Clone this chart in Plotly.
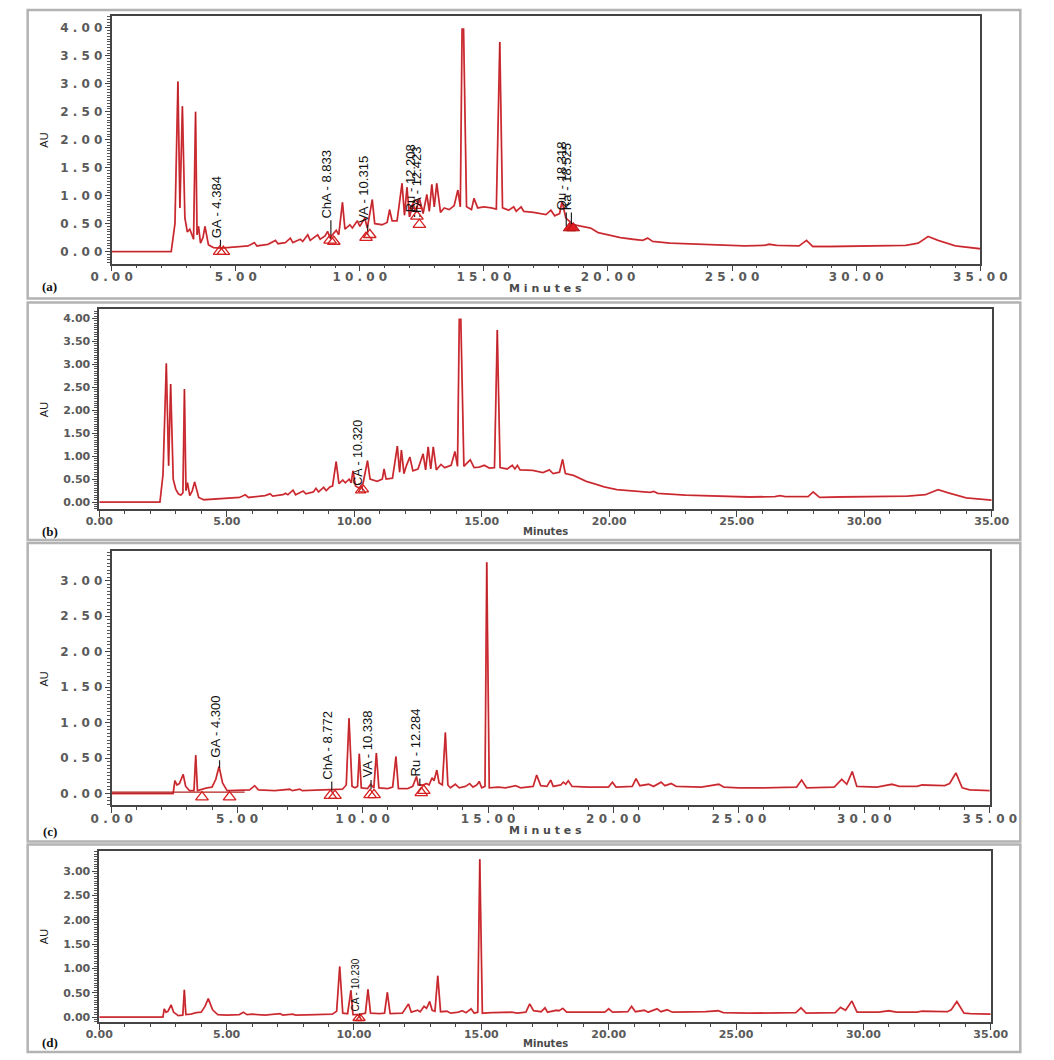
import plotly.graph_objects as go

W, H = 1054, 1060

# ---------------- (a) ----------------
a_time = [0.0, 2.40, 2.55, 2.67, 2.75, 2.85, 2.95, 3.05, 3.15, 3.30, 3.38, 3.44, 3.50, 3.58, 3.68, 3.76,
          3.90, 4.10, 4.40, 5.00, 5.50, 5.75, 5.85, 6.30, 6.60, 6.70, 7.00, 7.20, 7.30, 7.60, 7.70, 7.90,
          8.00, 8.30, 8.40, 8.60, 8.70, 8.80, 8.90, 9.05, 9.15, 9.30, 9.40, 9.60, 9.70, 9.90, 10.00, 10.20,
          10.30, 10.50, 10.60, 10.90, 11.10, 11.20, 11.30, 11.50, 11.70, 11.80, 11.90, 12.00, 12.15, 12.25,
          12.40, 12.55, 12.70, 12.80, 12.90, 13.00, 13.10, 13.25, 13.40, 13.60, 13.80, 13.95, 14.05, 14.12,
          14.18, 14.30, 14.50, 14.60, 14.75, 15.00, 15.30, 15.50, 15.64, 15.75, 16.00, 16.20, 16.30, 16.50,
          16.60, 17.00, 17.50, 17.70, 17.85, 18.05, 18.15, 18.30, 18.60, 19.00, 19.30, 19.60, 20.00, 20.50,
          21.00, 21.40, 21.60, 21.80, 22.50, 23.50, 24.50, 25.50, 26.30, 26.50, 26.80, 27.70, 28.00, 28.25,
          29.00, 30.00, 31.00, 32.00, 32.50, 32.90, 33.30, 34.00, 35.00]
a_au = [0.0, 0.0, 0.50, 3.04, 0.78, 2.60, 0.60, 0.35, 0.40, 0.22, 2.50, 0.30, 0.45, 0.15, 0.25, 0.45,
        0.12, 0.07, 0.06, 0.08, 0.10, 0.16, 0.10, 0.13, 0.20, 0.14, 0.16, 0.24, 0.16, 0.22, 0.18, 0.30,
        0.20, 0.30, 0.22, 0.28, 0.36, 0.25, 0.30, 0.38, 0.30, 0.88, 0.40, 0.48, 0.42, 0.55, 0.45, 0.60,
        0.42, 0.93, 0.50, 0.48, 0.52, 0.75, 0.55, 0.55, 1.22, 0.65, 1.15, 0.62, 0.85, 0.70,
        0.95, 0.68, 1.02, 0.72, 1.20, 0.80, 1.22, 0.70, 0.78, 0.75, 0.82, 1.10, 0.80, 3.98,
        3.98, 0.80, 0.75, 0.95, 0.78, 0.80, 0.78, 0.76, 3.75, 0.78, 0.74, 0.80, 0.72, 0.80,
        0.72, 0.70, 0.66, 0.74, 0.64, 0.68, 0.90, 0.60, 0.48, 0.45, 0.42, 0.34, 0.30, 0.25,
        0.22, 0.20, 0.24, 0.18, 0.15, 0.13, 0.11, 0.10, 0.11, 0.13, 0.11, 0.10, 0.20, 0.09,
        0.09, 0.10, 0.10, 0.11, 0.15, 0.27, 0.20, 0.10, 0.05]
a_lab_text = ["GA - 4.384", "ChA - 8.833", "VA - 10.315", "Ru - 12.208", "FA - 12.423", "Qu - 18.318", "Ka - 18.525"]
a_lab_time = [4.384, 8.833, 10.315, 12.208, 12.423, 18.318, 18.525]
a_lab_low = [0.07, 0.22, 0.30, 0.62, 0.62, 0.45, 0.45]
a_lab_high = [0.21, 0.56, 0.48, 0.66, 0.66, 0.70, 0.70]
a_tri_time = [4.35, 4.50, 8.80, 8.95, 10.25, 10.40, 12.25, 12.30, 12.40]
a_tri_au = [0.0, 0.0, 0.20, 0.18, 0.25, 0.30, 0.82, 0.63, 0.48]
a_solid_time = [18.45, 18.60]
a_solid_au = [0.42, 0.42]

# ---------------- (b) ----------------
b_time = [0.0, 2.38, 2.50, 2.63, 2.72, 2.80, 2.90, 3.00, 3.10, 3.20, 3.28, 3.34, 3.40, 3.46, 3.55, 3.65,
          3.74, 3.90, 4.10, 4.60, 5.00, 5.50, 5.73, 5.85, 6.50, 6.70, 6.80, 7.20, 7.30, 7.40, 7.60, 7.70,
          8.00, 8.10, 8.40, 8.50, 8.60, 8.80, 8.90, 9.05, 9.15, 9.29, 9.40, 9.55, 9.65, 9.80, 9.88, 9.95,
          10.05, 10.20, 10.35, 10.52, 10.62, 10.90, 11.10, 11.17, 11.25, 11.50, 11.69, 11.78, 11.85, 11.95,
          12.05, 12.18, 12.30, 12.50, 12.70, 12.80, 12.90, 13.00, 13.10, 13.22, 13.40, 13.55, 13.80, 13.95,
          14.05, 14.12, 14.18, 14.30, 14.55, 14.70, 14.90, 15.10, 15.30, 15.50, 15.61, 15.72, 16.00, 16.20,
          16.30, 16.40, 16.50, 17.00, 17.40, 17.65, 17.80, 18.05, 18.17, 18.28, 18.60, 18.84, 19.10, 19.40,
          19.80, 20.30, 21.00, 21.60, 21.75, 21.90, 23.00, 24.00, 25.50, 26.50, 26.70, 26.90, 27.80, 28.00,
          28.25, 29.00, 30.50, 31.70, 32.40, 32.90, 33.30, 34.00, 35.00]
b_au = [0.0, 0.0, 0.60, 3.02, 0.79, 2.57, 0.50, 0.28, 0.18, 0.15, 0.20, 2.46, 0.25, 0.42, 0.14, 0.25,
        0.44, 0.10, 0.05, 0.07, 0.07, 0.10, 0.16, 0.10, 0.14, 0.18, 0.13, 0.16, 0.19, 0.16, 0.26, 0.16,
        0.24, 0.18, 0.22, 0.30, 0.22, 0.32, 0.25, 0.33, 0.35, 0.88, 0.40, 0.48, 0.42, 0.50, 0.42, 0.68,
        0.35, 0.30, 0.42, 0.90, 0.50, 0.45, 0.50, 0.72, 0.50, 0.52, 1.22, 0.65, 1.13, 0.62,
        0.80, 0.98, 0.68, 0.72, 1.05, 0.70, 1.20, 0.72, 1.20, 0.70, 0.82, 0.75, 0.80, 1.10,
        0.78, 3.98, 3.98, 0.78, 0.92, 0.75, 0.76, 0.80, 0.74, 0.75, 3.75, 0.75, 0.72, 0.80,
        0.72, 0.80, 0.70, 0.69, 0.64, 0.70, 0.62, 0.65, 0.93, 0.62, 0.58, 0.52, 0.45, 0.40,
        0.33, 0.27, 0.23, 0.21, 0.23, 0.19, 0.15, 0.13, 0.11, 0.12, 0.14, 0.12, 0.12, 0.22,
        0.10, 0.11, 0.12, 0.13, 0.16, 0.27, 0.20, 0.09, 0.04]
b_lab_text = ["CA - 10.320"]
b_lab_time = [10.320]
b_lab_low = [0.25]
b_lab_high = [0.32]
b_tri_time = [10.25, 10.36]
b_tri_au = [0.25, 0.27]
b_solid_time = []
b_solid_au = []

# ---------------- (c) ----------------
c_time = [0.0, 2.45, 2.52, 2.60, 2.70, 2.85, 2.95, 3.10, 3.28, 3.35, 3.42, 3.60, 3.80, 4.00, 4.15, 4.28,
          4.42, 4.60, 5.00, 5.50, 5.70, 5.85, 6.50, 7.10, 7.20, 7.50, 7.60, 8.50, 9.20, 9.35, 9.46, 9.58,
          9.70, 9.80, 9.87, 9.95, 10.20, 10.32, 10.45, 10.55, 10.65, 11.00, 11.20, 11.33, 11.43, 11.80,
          12.00, 12.15, 12.22, 12.40, 12.55, 12.65, 12.77, 12.85, 12.96, 13.05, 13.18, 13.30, 13.40, 13.50,
          13.70, 13.85, 14.10, 14.27, 14.40, 14.55, 14.65, 14.75, 14.88, 14.95, 15.05, 15.40, 15.70, 16.10,
          16.30, 16.80, 16.94, 17.10, 17.35, 17.50, 17.60, 17.90, 18.00, 18.10, 18.20, 18.35, 19.00, 19.80,
          19.96, 20.10, 20.75, 20.90, 21.05, 21.40, 21.60, 21.90, 22.05, 22.30, 22.50, 23.50, 23.90, 24.20,
          24.40, 25.00, 26.00, 26.70, 27.30, 27.50, 27.70, 28.80, 29.10, 29.30, 29.52, 29.70, 30.50, 31.10,
          31.40, 32.10, 32.30, 33.20, 33.40, 33.65, 33.90, 34.20, 35.00]
c_au = [0.0, 0.0, 0.18, 0.12, 0.14, 0.27, 0.10, 0.04, 0.04, 0.54, 0.04, 0.06, 0.08, 0.09, 0.20, 0.38,
        0.15, 0.04, 0.04, 0.05, 0.11, 0.05, 0.04, 0.06, 0.04, 0.06, 0.04, 0.05, 0.06, 0.12, 1.06, 0.10,
        0.08, 0.10, 0.56, 0.08, 0.07, 0.13, 0.08, 0.57, 0.08, 0.07, 0.09, 0.52, 0.07, 0.07,
        0.10, 0.24, 0.12, 0.12, 0.14, 0.12, 0.22, 0.18, 0.33, 0.15, 0.12, 0.86, 0.12, 0.08,
        0.13, 0.08, 0.10, 0.14, 0.09, 0.12, 0.17, 0.08, 0.10, 3.26, 0.08, 0.09, 0.08, 0.11,
        0.08, 0.10, 0.26, 0.11, 0.10, 0.19, 0.10, 0.12, 0.16, 0.13, 0.18, 0.10, 0.09, 0.09,
        0.16, 0.09, 0.10, 0.21, 0.11, 0.13, 0.10, 0.16, 0.11, 0.14, 0.10, 0.09, 0.11, 0.13,
        0.09, 0.08, 0.08, 0.08, 0.09, 0.19, 0.08, 0.09, 0.20, 0.13, 0.31, 0.10, 0.09, 0.13,
        0.10, 0.10, 0.12, 0.11, 0.14, 0.29, 0.08, 0.05, 0.04]
c_base_time = [0.0, 5.30]
c_base_au = [0.02, 0.02]
c_lab_text = ["GA - 4.300", "ChA - 8.772", "VA - 10.338", "Ru - 12.284"]
c_lab_time = [4.300, 8.772, 10.338, 12.284]
c_lab_low = [0.36, 0.02, 0.06, 0.11]
c_lab_high = [0.47, 0.17, 0.19, 0.21]
c_tri_time = [3.60, 4.70, 8.72, 8.90, 10.30, 10.46, 12.34, 12.44]
c_tri_au = [-0.05, -0.05, -0.03, -0.03, -0.02, -0.02, 0.01, 0.04]
c_solid_time = []
c_solid_au = []

# ---------------- (d) ----------------
d_time = [0.0, 2.50, 2.55, 2.62, 2.70, 2.82, 2.92, 3.10, 3.28, 3.34, 3.40, 3.60, 3.80, 4.00, 4.15, 4.28,
          4.45, 4.65, 5.00, 5.50, 5.66, 5.80, 6.00, 6.50, 7.10, 7.20, 7.60, 7.70, 8.50, 9.15, 9.32, 9.44,
          9.56, 9.75, 9.88, 9.96, 10.20, 10.45, 10.55, 10.65, 11.00, 11.20, 11.31, 11.42, 11.90, 12.14,
          12.25, 12.50, 12.60, 12.75, 12.85, 12.97, 13.07, 13.18, 13.29, 13.40, 13.65, 13.80, 14.10, 14.25,
          14.40, 14.60, 14.72, 14.86, 14.94, 15.04, 15.40, 16.20, 16.40, 16.75, 16.90, 17.05, 17.35, 17.50,
          17.60, 17.95, 18.05, 18.20, 18.35, 19.00, 19.85, 20.00, 20.15, 20.75, 20.90, 21.05, 21.40, 21.55,
          21.90, 22.05, 22.30, 22.50, 23.80, 24.30, 24.50, 25.50, 26.50, 27.35, 27.55, 27.75, 28.90, 29.10,
          29.30, 29.55, 29.75, 30.60, 31.00, 31.30, 32.10, 32.30, 33.30, 33.45, 33.67, 33.95, 34.20, 35.00]
d_au = [0.0, 0.0, 0.17, 0.10, 0.12, 0.25, 0.10, 0.03, 0.04, 0.56, 0.05, 0.06, 0.09, 0.10, 0.22, 0.38,
        0.15, 0.05, 0.04, 0.05, 0.10, 0.05, 0.06, 0.04, 0.07, 0.04, 0.06, 0.04, 0.05, 0.06, 0.12, 1.04,
        0.08, 0.07, 0.55, 0.05, 0.05, 0.08, 0.57, 0.08, 0.07, 0.08, 0.51, 0.07, 0.08, 0.27,
        0.10, 0.14, 0.11, 0.22, 0.18, 0.32, 0.14, 0.12, 0.85, 0.11, 0.12, 0.08, 0.10, 0.13,
        0.09, 0.17, 0.08, 0.10, 3.25, 0.08, 0.09, 0.10, 0.08, 0.10, 0.27, 0.13, 0.11, 0.19,
        0.10, 0.14, 0.13, 0.18, 0.10, 0.10, 0.10, 0.17, 0.10, 0.11, 0.22, 0.11, 0.14, 0.10,
        0.17, 0.11, 0.15, 0.10, 0.11, 0.13, 0.09, 0.08, 0.08, 0.09, 0.19, 0.08, 0.09, 0.20,
        0.14, 0.33, 0.10, 0.10, 0.13, 0.10, 0.10, 0.12, 0.11, 0.15, 0.32, 0.08, 0.07, 0.06]
d_lab_text = ["CA - 10.230"]
d_lab_time = [10.230]
d_lab_low = [-0.02]
d_lab_high = [0.08]
d_tri_time = [10.14, 10.26]
d_tri_au = [-0.03, -0.03]
d_solid_time = []
d_solid_au = []

x_ticks = [0, 5, 10, 15, 20, 25, 30, 35]
y_ticks_ab = [0, 0.5, 1.0, 1.5, 2.0, 2.5, 3.0, 3.5, 4.0]
y_ticks_cd = [0, 0.5, 1.0, 1.5, 2.0, 2.5, 3.0]


def spaced(v):
    # the (a)/(c) exports print axis numbers with wide letter spacing
    return " ".join("{:.2f}".format(v))


# pixel boxes of each plot area: left, right, top, bottom  + y range + label look
panels = [
    dict(t=a_time, y=a_au, lt=a_lab_text, lx=a_lab_time, llo=a_lab_low, lhi=a_lab_high,
         tx=a_tri_time, ty=a_tri_au, sx=a_solid_time, sy=a_solid_au, yt=y_ticks_ab,
         box=(95, 1005, 16, 264), yr=[-0.214, 4.214], wide=True, lsize=13, tsize=11,
         frame=(7, 1047, 10, 299), tag="(a)", tagy=287, miny=289, aux=24, auy=140),
    dict(t=b_time, y=b_au, lt=b_lab_text, lx=b_lab_time, llo=b_lab_low, lhi=b_lab_high,
         tx=b_tri_time, ty=b_tri_au, sx=b_solid_time, sy=b_solid_au, yt=y_ticks_ab,
         box=(82, 1017, 310, 510), yr=[-0.152, 4.196], wide=False, lsize=12.5, tsize=9,
         frame=(7, 1047, 303, 541), tag="(b)", tagy=533, miny=533, aux=24, auy=410),
    dict(t=c_time, y=c_au, lt=c_lab_text, lx=c_lab_time, llo=c_lab_low, lhi=c_lab_high,
         tx=c_tri_time, ty=c_tri_au, sx=c_solid_time, sy=c_solid_au, yt=y_ticks_cd,
         box=(95, 1015, 552, 807), yr=[-0.169, 3.42], wide=True, lsize=13, tsize=11,
         frame=(7, 1047, 544, 843), tag="(c)", tagy=833, miny=832, aux=24, auy=680),
    dict(t=d_time, y=d_au, lt=d_lab_text, lx=d_lab_time, llo=d_lab_low, lhi=d_lab_high,
         tx=d_tri_time, ty=d_tri_au, sx=d_solid_time, sy=d_solid_au, yt=y_ticks_cd,
         box=(82, 1016, 853, 1024), yr=[-0.103, 3.41], wide=False, lsize=10, tsize=8,
         frame=(7, 1047, 846, 1054), tag="(d)", tagy=1044, miny=1045, aux=24, auy=938),
]

fig = go.Figure()
annotations = []
shapes = []
layout = {}

for i, p in enumerate(panels):
    n = "" if i == 0 else str(i + 1)
    xa, ya = "x" + n, "y" + n

    # chromatogram: light wide stroke + thin dark stroke on top
    fig.add_trace(go.Scatter(x=p["t"], y=p["y"], mode="lines", xaxis=xa, yaxis=ya,
                             line=dict(color="#e3434a", width=1.8), hoverinfo="skip"))
    fig.add_trace(go.Scatter(x=p["t"], y=p["y"], mode="lines", xaxis=xa, yaxis=ya,
                             line=dict(color="#9a0d10", width=0.7), opacity=0.75, hoverinfo="skip"))
    if i == 2:
        fig.add_trace(go.Scatter(x=c_base_time, y=c_base_au, mode="lines", xaxis=xa, yaxis=ya,
                                 line=dict(color="#b52020", width=1.2), hoverinfo="skip"))

    # peak label stems
    sx, sy = [], []
    for t, lo, hi in zip(p["lx"], p["llo"], p["lhi"]):
        sx += [t, t, None]
        sy += [lo, hi, None]
    fig.add_trace(go.Scatter(x=sx, y=sy, mode="lines", xaxis=xa, yaxis=ya,
                             line=dict(color="#222222", width=1.2), hoverinfo="skip"))

    # integration marks
    fig.add_trace(go.Scatter(x=p["tx"], y=p["ty"], mode="markers", xaxis=xa, yaxis=ya,
                             marker=dict(symbol="triangle-up-open", size=p["tsize"], color="#d42020",
                                         line=dict(width=1.3, color="#d42020")), hoverinfo="skip"))
    if p["sx"]:
        fig.add_trace(go.Scatter(x=p["sx"], y=p["sy"], mode="markers", xaxis=xa, yaxis=ya,
                                 marker=dict(symbol="triangle-up", size=p["tsize"], color="#e02020",
                                             line=dict(width=1, color="#b01010")), hoverinfo="skip"))

    for txt, t, hi in zip(p["lt"], p["lx"], p["lhi"]):
        annotations.append(dict(x=t, y=hi, xref=xa, yref=ya, text=txt, textangle=-90, showarrow=False,
                                xanchor="center", yanchor="bottom", xshift=-4,
                                font=dict(family="Liberation Sans", size=p["lsize"], color="#111111")))

    l, r, top, bot = p["box"]
    if p["wide"]:
        tick_font = dict(family="DejaVu Sans", size=12, color="#5a5a5a", weight="bold")
        xtext = [spaced(v) for v in x_ticks]
        ytext = [spaced(v) for v in p["yt"]]
        mtext = " ".join("Minutes")
    else:
        tick_font = dict(family="DejaVu Sans", size=11, color="#5a5a5a", weight="bold")
        xtext = ["{:.2f}".format(v) for v in x_ticks]
        ytext = ["{:.2f}".format(v) for v in p["yt"]]
        mtext = "Minutes"

    layout["xaxis" + n] = dict(domain=[l / W, r / W], range=[0, 35], anchor=ya,
                               tickmode="array", tickvals=x_ticks, ticktext=xtext, tickfont=tick_font,
                               ticks="outside", ticklen=6, tickwidth=1.2, tickcolor="#444",
                               ticklabelstandoff=-5,
                               minor=dict(tickmode="linear", tick0=0, dtick=1, ticks="outside",
                                          ticklen=3, tickcolor="#444", showgrid=False),
                               showline=True, linecolor="#444", linewidth=1.6, mirror=True,
                               showgrid=False, zeroline=False, fixedrange=True)
    layout["yaxis" + n] = dict(domain=[1 - bot / H, 1 - top / H], range=p["yr"], anchor=xa,
                               tickmode="array", tickvals=p["yt"], ticktext=ytext, tickfont=tick_font,
                               ticks="outside", ticklen=5, tickwidth=1.2, tickcolor="#444",
                               minor=dict(tickmode="linear", tick0=0, dtick=0.05, ticks="outside",
                                          ticklen=3, tickcolor="#555", showgrid=False),
                               showline=True, linecolor="#444", linewidth=1.6, mirror=True,
                               showgrid=False, zeroline=False, fixedrange=True)

    # panel texts
    annotations.append(dict(x=550 / W, y=1 - p["miny"] / H, xref="paper", yref="paper", text=mtext,
                            showarrow=False, xanchor="center", yanchor="middle",
                            font=dict(family="DejaVu Sans", size=11 if p["wide"] else 10,
                                      color="#4a4a4a", weight="bold")))
    annotations.append(dict(x=p["aux"] / W, y=1 - p["auy"] / H, xref="paper", yref="paper", text="AU",
                            textangle=-90, showarrow=False, xanchor="center", yanchor="middle",
                            font=dict(family="Liberation Sans", size=11, color="#222222")))
    annotations.append(dict(x=30 / W, y=1 - p["tagy"] / H, xref="paper", yref="paper", text=p["tag"],
                            showarrow=False, xanchor="center", yanchor="middle",
                            font=dict(family="Liberation Serif", size=13, color="#111111", weight="bold")))

    fl, fr, ft, fb = p["frame"]
    shapes.append(dict(type="rect", xref="paper", yref="paper", x0=fl / W, x1=fr / W,
                       y0=1 - fb / H, y1=1 - ft / H, line=dict(color="#b3b3b3", width=2.5)))

fig.update_layout(width=W, height=H, margin=dict(l=0, r=0, t=0, b=0), autosize=False,
                  paper_bgcolor="white", plot_bgcolor="white", showlegend=False,
                  annotations=annotations, shapes=shapes, **layout)

# page body has a default 8px margin; drop it so the figure sits at the window origin
fig.write_html("out.html", config={"displayModeBar": False},
               post_script="document.body.style.margin='0px';")
